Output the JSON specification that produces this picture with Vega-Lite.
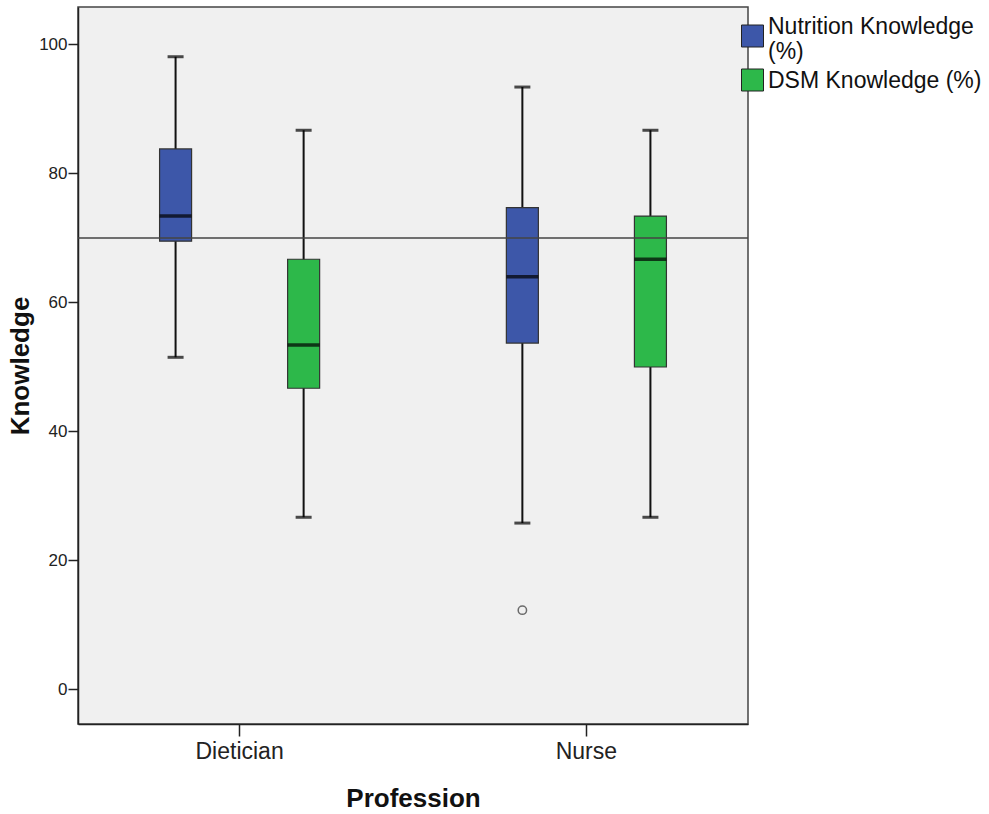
{
  "$schema": "https://vega.github.io/schema/vega-lite/v6.json",
  "autosize": {"type": "none"},
  "padding": {"left": 78, "top": 7, "right": 241, "bottom": 90},
  "width": 670,
  "height": 717,
  "background": "white",
  "config": {
    "font": "Liberation Sans",
    "view": {"fill": "#F0F0F0", "stroke": "#444444", "strokeWidth": 1.5}
  },
  "datasets": {
    "boxes": [
      {"profession": "Dietician", "measure": "Nutrition Knowledge (%)", "lower": 51.5, "q1": 69.5, "median": 73.4, "q3": 83.8, "upper": 98.1},
      {"profession": "Dietician", "measure": "DSM Knowledge (%)", "lower": 26.7, "q1": 46.7, "median": 53.4, "q3": 66.7, "upper": 86.7},
      {"profession": "Nurse", "measure": "Nutrition Knowledge (%)", "lower": 25.8, "q1": 53.7, "median": 64.0, "q3": 74.7, "upper": 93.4},
      {"profession": "Nurse", "measure": "DSM Knowledge (%)", "lower": 26.7, "q1": 50.0, "median": 66.7, "q3": 73.4, "upper": 86.7}
    ],
    "outliers": [
      {"profession": "Nurse", "measure": "Nutrition Knowledge (%)", "value": 12.3}
    ],
    "reference": [
      {"value": 70}
    ]
  },
  "data": {"name": "boxes"},
  "encoding": {
    "x": {
      "field": "profession",
      "type": "nominal",
      "sort": ["Dietician", "Nurse"],
      "scale": {"paddingInner": 0.2, "paddingOuter": 0.066},
      "axis": {
        "title": "Profession",
        "titleFontSize": 26,
        "titleFontWeight": "bold",
        "titleColor": "#111111",
        "titlePadding": 22,
        "labelFontSize": 23,
        "labelColor": "#222222",
        "labelAngle": 0,
        "labelPadding": 4,
        "tickSize": 12,
        "tickWidth": 1.5,
        "tickColor": "#222222",
        "domainColor": "#222222",
        "domainWidth": 1.5
      }
    },
    "xOffset": {
      "field": "measure",
      "type": "nominal",
      "sort": ["Nutrition Knowledge (%)", "DSM Knowledge (%)"],
      "scale": {"paddingInner": 0.75, "paddingOuter": 0.4583}
    }
  },
  "layer": [
    {
      "mark": {"type": "rule", "color": "#111111", "strokeWidth": 2},
      "encoding": {
        "y": {
          "field": "lower",
          "type": "quantitative",
          "scale": {"domain": [-5.35, 105.81], "nice": false, "zero": false},
          "axis": {
            "title": "Knowledge",
            "titleFontSize": 26,
            "titleFontWeight": "bold",
            "titleColor": "#111111",
            "titlePadding": 5,
            "values": [0, 20, 40, 60, 80, 100],
            "grid": false,
            "labelFontSize": 17,
            "labelColor": "#222222",
            "labelPadding": 1,
            "tickSize": 10,
            "tickWidth": 1.5,
            "tickColor": "#222222",
            "domainColor": "#222222",
            "domainWidth": 1.5
          }
        },
        "y2": {"field": "upper"}
      }
    },
    {
      "mark": {"type": "bar", "stroke": "#333333", "strokeWidth": 1.2},
      "encoding": {
        "y": {"field": "q1", "type": "quantitative"},
        "y2": {"field": "q3"},
        "color": {
          "field": "measure",
          "type": "nominal",
          "sort": ["Nutrition Knowledge (%)", "DSM Knowledge (%)"],
          "scale": {"domain": ["Nutrition Knowledge (%)", "DSM Knowledge (%)"], "range": ["#3D57A9", "#2DB84A"]},
          "legend": {
            "title": null,
            "orient": "none",
            "legendX": 663,
            "legendY": 8,
            "padding": 0,
            "symbolType": "square",
            "symbolSize": 484,
            "symbolStrokeColor": "#222222",
            "symbolStrokeWidth": 1,
            "symbolOpacity": 1,
            "labelFontSize": 23,
            "labelColor": "#111111",
            "labelLimit": 320,
            "labelOffset": 4,
            "rowPadding": 3,
            "labelExpr": "datum.label == 'Nutrition Knowledge (%)' ? ['Nutrition Knowledge', '(%)'] : datum.label",
            "encode": {
              "symbols": {
                "update": {
                  "y": {"signal": "datum.value == 'Nutrition Knowledge (%)' ? 21 : 11"}
                }
              }
            }
          }
        }
      }
    },
    {
      "mark": {"type": "tick", "color": "#000000", "size": 32, "thickness": 3.5},
      "encoding": {
        "y": {"field": "median", "type": "quantitative"}
      }
    },
    {
      "mark": {"type": "tick", "color": "#000000", "size": 16, "thickness": 3},
      "encoding": {
        "y": {"field": "upper", "type": "quantitative"}
      }
    },
    {
      "mark": {"type": "tick", "color": "#000000", "size": 16, "thickness": 3},
      "encoding": {
        "y": {"field": "lower", "type": "quantitative"}
      }
    },
    {
      "data": {"name": "outliers"},
      "mark": {"type": "point", "shape": "circle", "filled": false, "size": 70, "stroke": "#333333", "strokeWidth": 1.5},
      "encoding": {
        "y": {"field": "value", "type": "quantitative"}
      }
    },
    {
      "data": {"name": "reference"},
      "mark": {"type": "rule", "color": "#444444", "strokeWidth": 1.3},
      "encoding": {
        "x": {"value": 0},
        "x2": {"value": 670},
        "xOffset": null,
        "y": {"field": "value", "type": "quantitative"}
      }
    }
  ]
}
